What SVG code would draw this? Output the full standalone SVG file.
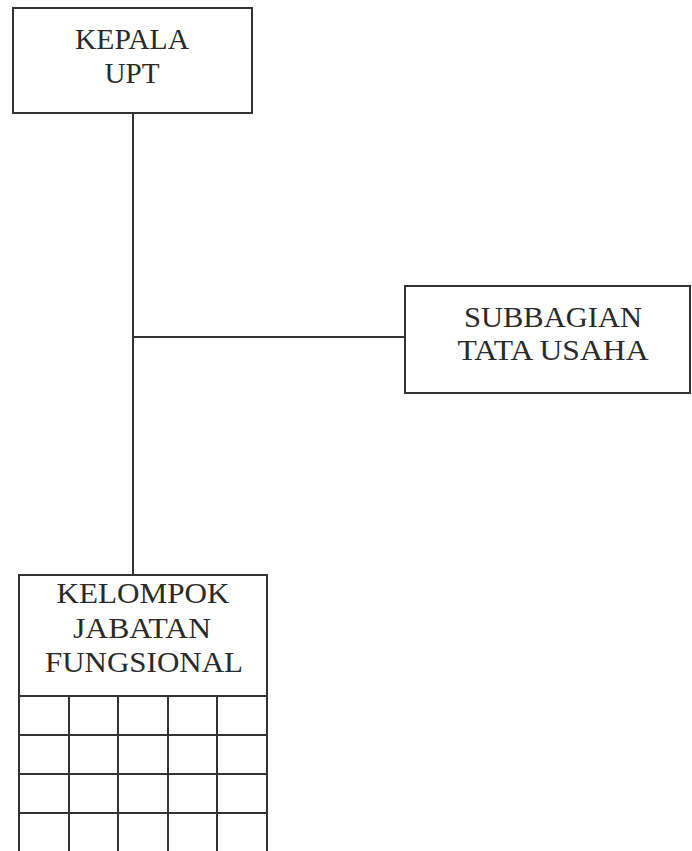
<svg xmlns="http://www.w3.org/2000/svg" width="692" height="851" viewBox="0 0 692 851">
<style>
.box{fill:#fff;stroke:#333;stroke-width:2}
.ln{stroke:#333;stroke-width:2;fill:none}
text{font-family:"Liberation Serif","Times New Roman",serif;font-size:30px;fill:#2a2a2a;text-anchor:middle}
</style>
<rect width="692" height="851" fill="#fff"/>
<g id="connectors">
<line class="ln" x1="133" y1="113" x2="133" y2="575"/>
<line class="ln" x1="133" y1="337" x2="405" y2="337"/>
</g>
<g id="kepala">
<rect class="box" x="13" y="8" width="239" height="105"/>
<text x="132" y="49" textLength="114" lengthAdjust="spacingAndGlyphs">KEPALA</text>
<text x="132" y="83" textLength="55" lengthAdjust="spacingAndGlyphs">UPT</text>
</g>
<g id="subbagian">
<rect class="box" x="405" y="286" width="285" height="107"/>
<text x="553" y="327" textLength="178" lengthAdjust="spacingAndGlyphs">SUBBAGIAN</text>
<text x="553" y="360" textLength="191" lengthAdjust="spacingAndGlyphs">TATA USAHA</text>
</g>
<g id="kelompok">
<rect class="box" x="19" y="575" width="248" height="290"/>
<text x="143" y="603" textLength="173" lengthAdjust="spacingAndGlyphs">KELOMPOK</text>
<text x="142" y="638" textLength="138" lengthAdjust="spacingAndGlyphs">JABATAN</text>
<text x="144" y="672" textLength="198" lengthAdjust="spacingAndGlyphs">FUNGSIONAL</text>
<path class="ln" d="M19 696H267M19 735H267M19 774H267M19 813H267M69 696V851M118 696V851M168 696V851M217 696V851"/>
</g>
</svg>
